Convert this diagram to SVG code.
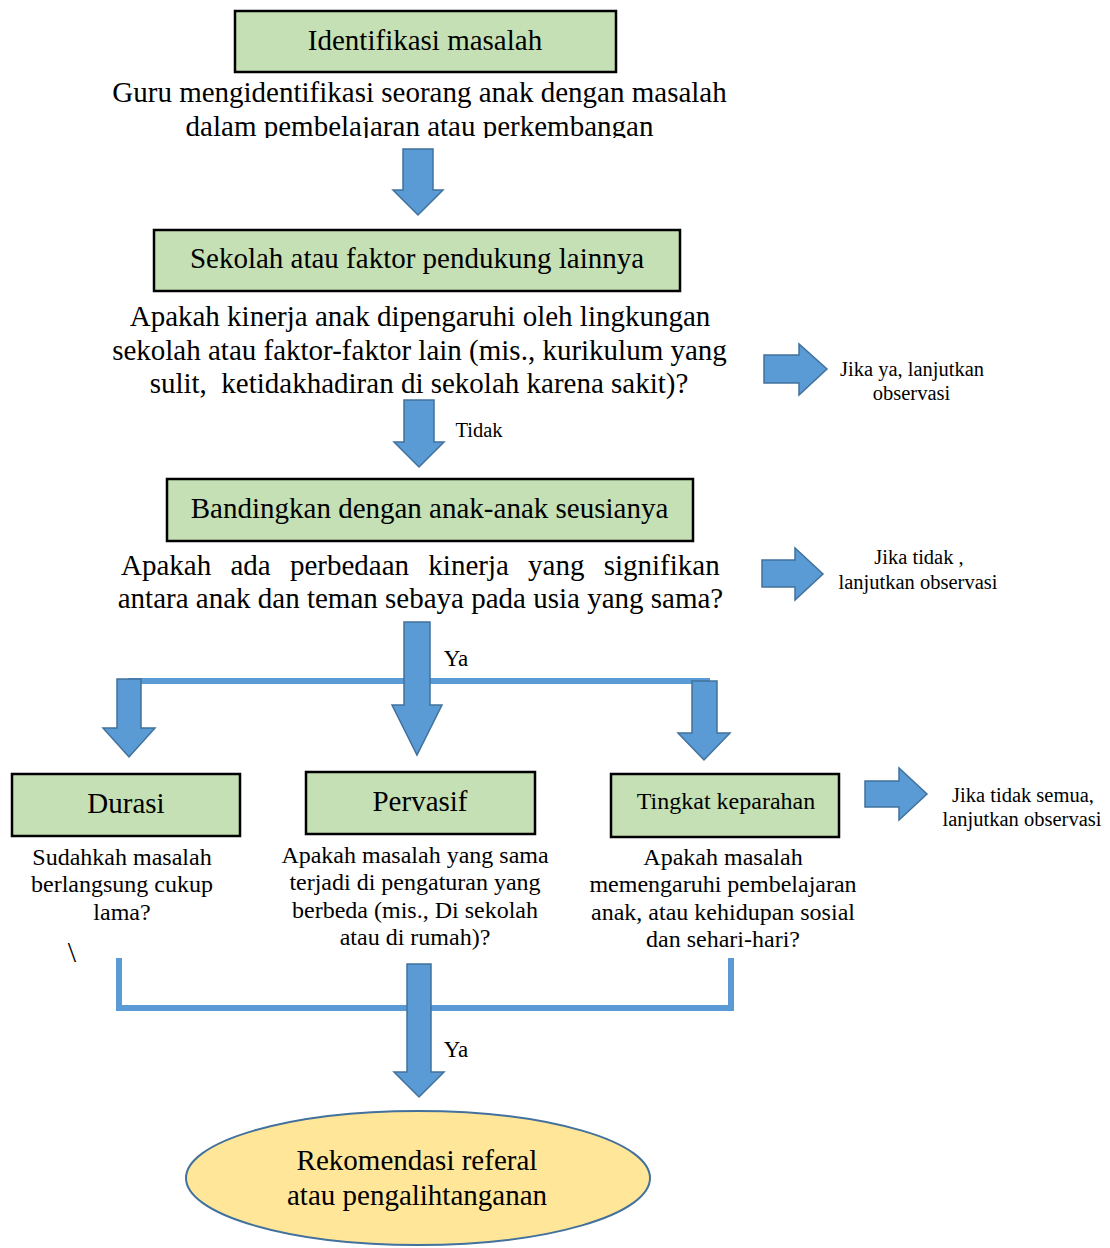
<svg xmlns="http://www.w3.org/2000/svg" width="1110" height="1248" viewBox="0 0 1110 1248">
<style>
.box{fill:#c5e0b4;stroke:#000;stroke-width:2.5}
.t{font-family:"Liberation Serif","Times New Roman",serif;fill:#000;text-anchor:middle}
.big{font-size:29px}
.mid{font-size:24px}
.sm{font-size:20.5px}
.arr{fill:#5b9bd5;stroke:#41719c;stroke-width:1.5;stroke-linejoin:miter}
.ln{fill:none;stroke:#5b9bd5;stroke-width:6}
</style>
<defs>
<clipPath id="clip1"><rect x="0" y="0" width="1110" height="138"/></clipPath>
</defs>
<rect width="1110" height="1248" fill="#fff"/>

<g id="connectors">
<polyline class="ln" points="128,681 710,681"/>
<polyline class="ln" points="119,958 119,1008 731,1008 731,958"/>
<polygon class="arr" points="403,149 433,149 433,190 443,190 418,215 393,190 403,190"/>
<polygon class="arr" points="404,400 434,400 434,442 444,442 419,467 394,442 404,442"/>
<polygon class="arr" points="404,622 430,622 430,705 442,705 417,755 392,705 404,705"/>
<polygon class="arr" points="117,679 141,679 141,728 155,728 129,757 103,728 117,728"/>
<polygon class="arr" points="692,681 717,681 717,733 730,733 704,760 678,733 692,733"/>
<polygon class="arr" points="407,964 431,964 431,1072 444,1072 419,1097 394,1072 407,1072"/>
<polygon class="arr" points="764,355 799,355 799,344 827,369 799,395 799,383 764,383"/>
<polygon class="arr" points="762,560 795,560 795,548 823,574 795,600 795,587 762,587"/>
<polygon class="arr" points="865,781 899,781 899,768 927,794 899,820 899,807 865,807"/>
<text class="t sm" x="479" y="437">Tidak</text>
<text class="t mid" x="456" y="666" style="font-size:23px">Ya</text>
<text class="t mid" x="456" y="1057" style="font-size:23px">Ya</text>
</g>

<g id="node-identifikasi">
<rect class="box" x="235" y="11" width="381" height="61"/>
<text class="t big" x="425" y="50">Identifikasi masalah</text>
<g clip-path="url(#clip1)">
<text class="t big" x="419.5" y="102">Guru mengidentifikasi seorang anak dengan masalah</text>
<text class="t big" x="419.5" y="136">dalam pembelajaran atau perkembangan</text>
</g>
</g>

<g id="node-sekolah">
<rect class="box" x="154" y="230" width="526" height="61"/>
<text class="t big" x="417" y="268">Sekolah atau faktor pendukung lainnya</text>
<text class="t big" x="420" y="326">Apakah kinerja anak dipengaruhi oleh lingkungan</text>
<text class="t big" x="419.5" y="360">sekolah atau faktor-faktor lain (mis., kurikulum yang</text>
<text class="t big" x="419" y="393" xml:space="preserve">sulit,  ketidakhadiran di sekolah karena sakit)?</text>
</g>

<g id="note-ya">
<text class="t sm" x="912" y="376">Jika ya, lanjutkan</text>
<text class="t sm" x="911.5" y="400">observasi</text>
</g>

<g id="node-bandingkan">
<rect class="box" x="167" y="479" width="526" height="62"/>
<text class="t big" x="429.5" y="518">Bandingkan dengan anak-anak seusianya</text>
<text class="t big" x="121" y="575" style="text-anchor:start;word-spacing:12px">Apakah ada perbedaan kinerja yang signifikan</text>
<text class="t big" x="420.5" y="608">antara anak dan teman sebaya pada usia yang sama?</text>
</g>

<g id="note-tidak">
<text class="t sm" x="919" y="564">Jika tidak ,</text>
<text class="t sm" x="918" y="589">lanjutkan observasi</text>
</g>

<g id="node-durasi">
<rect class="box" x="12" y="774" width="228" height="62"/>
<text class="t big" x="126" y="813">Durasi</text>
<text class="t mid" x="122" y="865">Sudahkah masalah</text>
<text class="t mid" x="122" y="892">berlangsung cukup</text>
<text class="t mid" x="122" y="920">lama?</text>
<text class="t big" x="72" y="962" style="font-size:30px">\</text>
</g>

<g id="node-pervasif">
<rect class="box" x="306" y="772" width="229" height="62"/>
<text class="t big" x="420" y="811">Pervasif</text>
<text class="t mid" x="415" y="863">Apakah masalah yang sama</text>
<text class="t mid" x="415" y="890">terjadi di pengaturan yang</text>
<text class="t mid" x="415" y="918">berbeda (mis., Di sekolah</text>
<text class="t mid" x="415" y="945">atau di rumah)?</text>
</g>

<g id="node-tingkat">
<rect class="box" x="611" y="774" width="228" height="63"/>
<text class="t mid" x="726" y="809">Tingkat keparahan</text>
<text class="t mid" x="723" y="865">Apakah masalah</text>
<text class="t mid" x="723" y="892">memengaruhi pembelajaran</text>
<text class="t mid" x="723" y="920">anak, atau kehidupan sosial</text>
<text class="t mid" x="723" y="947">dan sehari-hari?</text>
</g>

<g id="note-semua">
<text class="t sm" x="1023" y="802">Jika tidak semua,</text>
<text class="t sm" x="1022" y="826">lanjutkan observasi</text>
</g>

<g id="node-rekomendasi">
<ellipse cx="418" cy="1178" rx="232" ry="67" fill="#ffe699" stroke="#41719c" stroke-width="2"/>
<text class="t big" x="417" y="1170">Rekomendasi referal</text>
<text class="t big" x="417" y="1205">atau pengalihtanganan</text>
</g>
</svg>
